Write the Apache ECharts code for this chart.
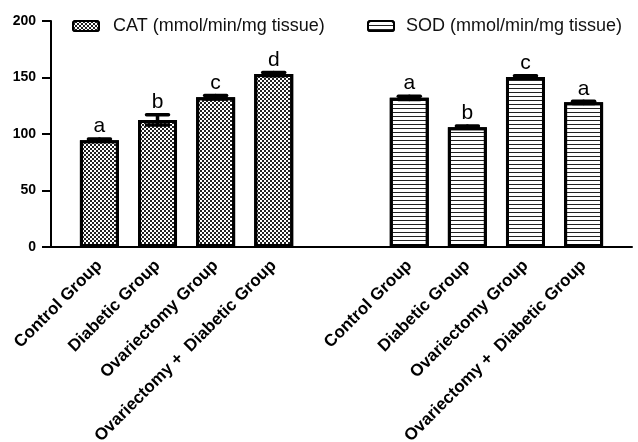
<!DOCTYPE html>
<html>
<head>
<meta charset="utf-8">
<script src="https://cdn.jsdelivr.net/npm/echarts@6/dist/echarts.min.js"></script>
<style>
  html, body { margin: 0; padding: 0; background: #fff; }
  #chart { width: 638px; height: 442px; }
</style>
</head>
<body>
<div id="chart"></div>
<script>
  // data
  const groups = ['Control Group', 'Diabetic Group', 'Ovariectomy Group', 'Ovariectomy +  Diabetic Group'];
  const catName = 'CAT (mmol/min/mg tissue)';
  const sodName = 'SOD (mmol/min/mg tissue)';
  const catValues = [94.5, 112.5, 132.5, 153];
  const catErrors = [1, 4.5, 1.5, 1.5];
  const catLetters = ['a', 'b', 'c', 'd'];
  const sodValues = [132, 106, 150.5, 128];
  const sodErrors = [1.5, 1, 1, 1];
  const sodLetters = ['a', 'b', 'c', 'a'];
  const yTicks = [0, 50, 100, 150, 200];

  // layout: a fine category grid so the gap between the two blocks matches
  const slotCount = 30;
  const catSlots = [2, 5, 8, 11];
  const sodSlots = [18, 21, 24, 27];

  const font = "'Liberation Sans', Arial, sans-serif";

  const slots = new Array(slotCount).fill('');
  catSlots.forEach((s, i) => { slots[s] = groups[i]; });
  sodSlots.forEach((s, i) => { slots[s] = groups[i]; });

  const fillSeries = (slotIdx, values) => {
    const arr = new Array(slotCount).fill('-');
    slotIdx.forEach((s, i) => { arr[s] = values[i]; });
    return arr;
  };

  const errData = [];
  catSlots.forEach((s, i) => errData.push([s, catValues[i], catErrors[i], catLetters[i]]));
  sodSlots.forEach((s, i) => errData.push([s, sodValues[i], sodErrors[i], sodLetters[i]]));

  const checkerDecal = {
    symbol: 'rect',
    symbolSize: 1,
    color: '#222',
    dashArrayX: [[2, 2], [0, 2, 2, 0]],
    dashArrayY: [2, 0],
    rotation: 0
  };
  const stripeDecal = {
    symbol: 'rect',
    symbolSize: 1,
    color: '#222',
    dashArrayX: [1, 0],
    dashArrayY: [1, 3],
    rotation: 0
  };

  const chart = echarts.init(document.getElementById('chart'), null, { renderer: 'canvas' });

  chart.setOption({
    animation: false,
    backgroundColor: '#fff',
    grid: { left: 51, right: 6, top: 21, bottom: 195, outerBoundsMode: 'none', containLabel: false },
    legend: [
      {
        data: [catName],
        left: 67,
        top: 12,
        itemWidth: 26,
        itemHeight: 10,
        textStyle: { fontFamily: font, fontSize: 18, color: '#111', padding: [0, 0, 0, 9] }
      },
      {
        data: [sodName],
        left: 362,
        top: 12,
        itemWidth: 26,
        itemHeight: 10,
        textStyle: { fontFamily: font, fontSize: 18, color: '#111', padding: [0, 0, 0, 7] }
      }
    ],
    xAxis: {
      type: 'category',
      data: slots,
      axisLine: { lineStyle: { color: '#000', width: 2 } },
      axisTick: {
        alignWithLabel: true,
        interval: (idx, val) => val !== '',
        length: 7,
        lineStyle: { color: '#000', width: 2 }
      },
      axisLabel: {
        interval: 0,
        rotate: 45,
        margin: 16,
        fontFamily: font,
        fontSize: 17,
        fontWeight: 'bold',
        color: '#000'
      }
    },
    yAxis: {
      type: 'value',
      min: yTicks[0],
      max: yTicks[yTicks.length - 1],
      interval: 50,
      axisLine: { show: true, lineStyle: { color: '#000', width: 2 } },
      axisTick: { show: true, length: 9, lineStyle: { color: '#000', width: 2 } },
      axisLabel: { margin: 15, fontFamily: font, fontSize: 14, fontWeight: 'bold', color: '#000' },
      splitLine: { show: false }
    },
    series: [
      {
        name: catName,
        type: 'bar',
        barWidth: 39,
        barGap: '-100%',
        data: fillSeries(catSlots, catValues),
        itemStyle: { color: '#fff', borderColor: '#000', borderWidth: 3, decal: checkerDecal }
      },
      {
        name: sodName,
        type: 'bar',
        barWidth: 39,
        barGap: '-100%',
        data: fillSeries(sodSlots, sodValues),
        itemStyle: { color: '#fff', borderColor: '#000', borderWidth: 3, decal: stripeDecal }
      },
      {
        type: 'custom',
        z: 10,
        data: errData,
        renderItem: (params, api) => {
          const x = api.value(0);
          const v = api.value(1);
          const e = api.value(2);
          const letter = errData[params.dataIndex][3];
          const top = api.coord([x, v + e]);
          const bot = api.coord([x, v - e]);
          const half = 11;
          const line = { stroke: '#000', lineWidth: 3.5, lineCap: 'round' };
          return {
            type: 'group',
            children: [
              { type: 'line', shape: { x1: top[0], y1: top[1], x2: bot[0], y2: bot[1] }, style: line },
              { type: 'line', shape: { x1: top[0] - half, y1: top[1], x2: top[0] + half, y2: top[1] }, style: line },
              { type: 'line', shape: { x1: bot[0] - half, y1: bot[1], x2: bot[0] + half, y2: bot[1] }, style: line },
              {
                type: 'text',
                x: top[0],
                y: top[1] - 2,
                style: {
                  text: letter,
                  fill: '#000',
                  font: '21px ' + font,
                  textAlign: 'center',
                  textVerticalAlign: 'bottom'
                }
              }
            ]
          };
        }
      }
    ]
  });
</script>
</body>
</html>
